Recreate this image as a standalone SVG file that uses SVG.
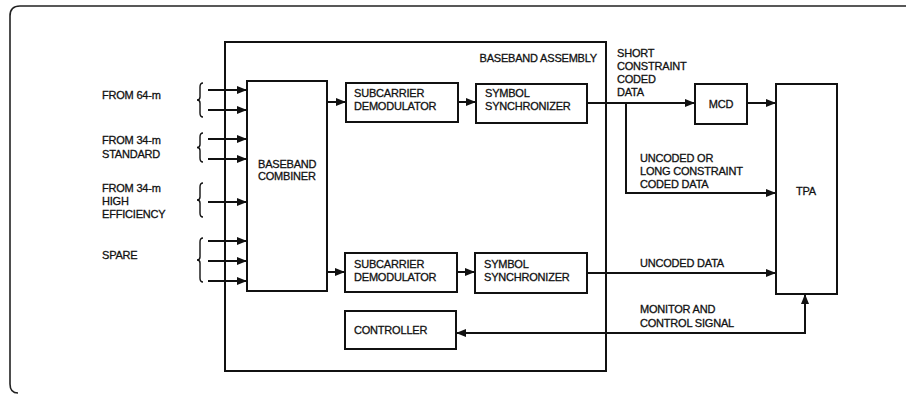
<svg xmlns="http://www.w3.org/2000/svg" width="906" height="394" viewBox="0 0 906 394">
<style>
.box{fill:#fff;stroke:#111;stroke-width:2}
.frame{fill:none;stroke:#222;stroke-width:1.6}
.ln{fill:none;stroke:#111;stroke-width:2}
.br{fill:none;stroke:#111;stroke-width:1.4}
text{font-family:"Liberation Sans",Arial,sans-serif;font-size:11px;fill:#111;stroke:#111;stroke-width:0.3;letter-spacing:-0.2px}
.mid{text-anchor:middle}
.end{text-anchor:end}
</style>
<defs>
<marker id="ah" viewBox="0 0 10 8" refX="10" refY="4" markerWidth="10" markerHeight="8" markerUnits="userSpaceOnUse" orient="auto">
<path d="M0,0 L10,4 L0,8 Z" fill="#111"/>
</marker>
</defs>
<rect width="906" height="394" fill="#fff"/>
<path class="frame" d="M906,6 H20 Q10,6 10,16 V384 Q10,393 18,393"/>

<g id="baseband-assembly">
<rect class="box" x="225" y="42" width="381" height="329" style="fill:none"/>
<text class="end" x="597" y="62">BASEBAND ASSEMBLY</text>
</g>

<g id="input-labels">
<text x="102" y="99">FROM 64-m</text>
<text x="102" y="144">FROM 34-m</text>
<text x="102" y="158">STANDARD</text>
<text x="102" y="192">FROM 34-m</text>
<text x="102" y="205">HIGH</text>
<text x="102" y="218">EFFICIENCY</text>
<text x="102" y="259">SPARE</text>
<path class="br" d="M203,83 Q200,83 200,87 L200,97 Q200,100 197,100 Q200,100 200,103 L200,113 Q200,117 203,117"/>
<path class="br" d="M203,133 Q200,133 200,137 L200,144.5 Q200,147.5 197,147.5 Q200,147.5 200,150.5 L200,158 Q200,162 203,162"/>
<path class="br" d="M203,183 Q200,183 200,187 L200,197 Q200,200 197,200 Q200,200 200,203 L200,213 Q200,217 203,217"/>
<path class="br" d="M203,238 Q200,238 200,242 L200,257 Q200,260 197,260 Q200,260 200,263 L200,278 Q200,282 203,282"/>
</g>

<g id="baseband-combiner">
<rect class="box" x="247" y="81" width="80" height="210"/>
<text x="258" y="168">BASEBAND</text>
<text x="258" y="180">COMBINER</text>
</g>

<g id="subcarrier-demod-1">
<rect class="box" x="346" y="83" width="112" height="39"/>
<text x="354" y="97">SUBCARRIER</text>
<text x="354" y="110">DEMODULATOR</text>
</g>
<g id="symbol-sync-1">
<rect class="box" x="476" y="84" width="111" height="39"/>
<text x="485" y="97">SYMBOL</text>
<text x="485" y="110">SYNCHRONIZER</text>
</g>
<g id="subcarrier-demod-2">
<rect class="box" x="345" y="253" width="112" height="39"/>
<text x="354" y="268">SUBCARRIER</text>
<text x="354" y="281">DEMODULATOR</text>
</g>
<g id="symbol-sync-2">
<rect class="box" x="475" y="253" width="112" height="40"/>
<text x="484" y="268">SYMBOL</text>
<text x="484" y="281">SYNCHRONIZER</text>
</g>
<g id="controller">
<rect class="box" x="345" y="311" width="111" height="38"/>
<text x="354" y="334">CONTROLLER</text>
</g>
<g id="mcd">
<rect class="box" x="695" y="84" width="52" height="40"/>
<text class="mid" x="721" y="108">MCD</text>
</g>
<g id="tpa">
<rect class="box" x="776" y="84" width="61" height="210"/>
<text class="mid" x="806" y="195">TPA</text>
</g>

<g id="connectors">
<line class="ln" x1="208" y1="90" x2="247" y2="90" marker-end="url(#ah)"/>
<line class="ln" x1="208" y1="110" x2="247" y2="110" marker-end="url(#ah)"/>
<line class="ln" x1="208" y1="139" x2="247" y2="139" marker-end="url(#ah)"/>
<line class="ln" x1="208" y1="159" x2="247" y2="159" marker-end="url(#ah)"/>
<line class="ln" x1="208" y1="202" x2="247" y2="202" marker-end="url(#ah)"/>
<line class="ln" x1="208" y1="241" x2="247" y2="241" marker-end="url(#ah)"/>
<line class="ln" x1="208" y1="261" x2="247" y2="261" marker-end="url(#ah)"/>
<line class="ln" x1="208" y1="281" x2="247" y2="281" marker-end="url(#ah)"/>
<line class="ln" x1="327" y1="102" x2="346" y2="102" marker-end="url(#ah)"/>
<line class="ln" x1="458" y1="102" x2="476" y2="102" marker-end="url(#ah)"/>
<line class="ln" x1="327" y1="272" x2="345" y2="272" marker-end="url(#ah)"/>
<line class="ln" x1="457" y1="272" x2="475" y2="272" marker-end="url(#ah)"/>
<line class="ln" x1="587" y1="103" x2="695" y2="103" marker-end="url(#ah)"/>
<line class="ln" x1="747" y1="103" x2="776" y2="103" marker-end="url(#ah)"/>
<path class="ln" d="M626,103 V193 H776" marker-end="url(#ah)"/>
<line class="ln" x1="587" y1="273" x2="776" y2="273" marker-end="url(#ah)"/>
<path class="ln" d="M805,333 H456" marker-end="url(#ah)"/>
<path class="ln" d="M600,333 H805 V294" marker-end="url(#ah)"/>
</g>

<g id="connector-labels">
<text x="617" y="57">SHORT</text>
<text x="617" y="70">CONSTRAINT</text>
<text x="617" y="83">CODED</text>
<text x="617" y="96">DATA</text>
<text x="640" y="162">UNCODED OR</text>
<text x="640" y="175">LONG CONSTRAINT</text>
<text x="640" y="188">CODED DATA</text>
<text x="640" y="267">UNCODED DATA</text>
<text x="640" y="313">MONITOR AND</text>
<text x="640" y="327">CONTROL SIGNAL</text>
</g>
</svg>
